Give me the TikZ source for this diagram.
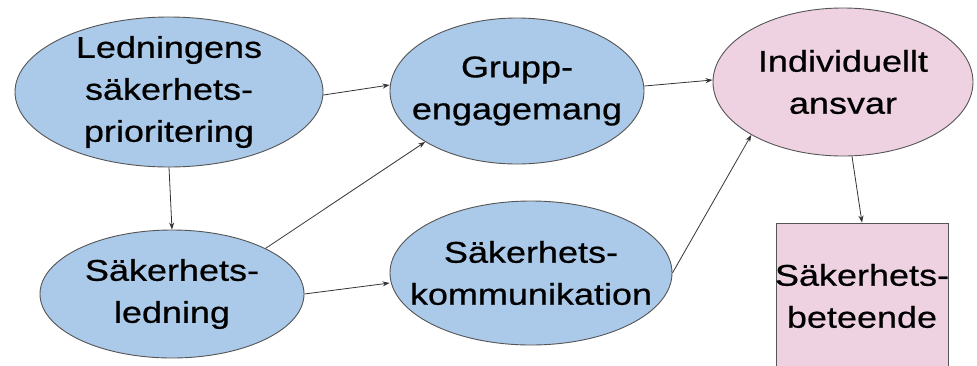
\documentclass[tikz,border=0pt]{standalone}
\usepackage{fontspec}
\newfontfamily\dfont[FakeStretch=1.2,FakeBold=0.6]{Liberation Sans}
\usetikzlibrary{shapes.geometric,arrows.meta}
\definecolor{bluefill}{RGB}{171,201,232}
\definecolor{pinkfill}{RGB}{238,210,226}
\definecolor{edgegray}{RGB}{85,85,85}
\tikzset{
  txt/.style={align=center, inner sep=0pt, font=\dfont\fontsize{30}{42}\selectfont, text=black},
  oval/.style={ellipse, draw=edgegray, line width=0.9pt, inner sep=0pt},
  blueoval/.style={oval, fill=bluefill},
  pinkoval/.style={oval, fill=pinkfill},
  boxnode/.style={rectangle, draw=edgegray, line width=0.9pt, fill=pinkfill, inner sep=0pt},
  link/.style={draw=black!80, line width=0.8pt, -{Stealth[length=7pt,width=5pt]}}
}
\begin{document}
\begin{tikzpicture}[x=1pt,y=-1pt]
\useasboundingbox (0,0) rectangle (977,365);
\fill[white] (0,0) rectangle (977,365);
\clip (0,0) rectangle (977,365);
\node[blueoval, minimum width=308pt, minimum height=150pt,
  label={[txt]center:{Ledningens\\säkerhets-\\prioritering}}] (L) at (169,92) {};
\node[blueoval, minimum width=254pt, minimum height=146pt,
  label={[txt]center:{Grupp-\\engagemang}}] (G) at (517,91) {};
\node[pinkoval, minimum width=260pt, minimum height=148pt,
  label={[txt]center:{Individuellt\\ansvar}}] (I) at (843,82) {};
\node[blueoval, minimum width=264pt, minimum height=128pt,
  label={[txt]center:{Säkerhets-\\ledning}}] (S) at (172,294) {};
\node[blueoval, minimum width=282pt, minimum height=144pt,
  label={[txt]center:{Säkerhets-\\kommunikation}}] (K) at (531,273) {};
\node[boxnode, minimum width=172pt, minimum height=170pt,
  label={[txt, yshift=12pt]center:{Säkerhets-\\beteende}}] (B) at (862,308) {};
\draw[link] ([yshift=-3pt]L.east) -- ([yshift=6pt]G.west);
\draw[link] ([yshift=5pt]G.east) -- ([yshift=2pt]I.west);
\draw[link] (L.south) -- (S.north);
\draw[link] (S.26) -- (G.209);
\draw[link] (S.east) -- ([yshift=-10pt]K.west);
\draw[link] (K.east) -- (I.210);
\draw[link] ([xshift=9pt]I.south) -- (B.north);
\end{tikzpicture}
\end{document}
